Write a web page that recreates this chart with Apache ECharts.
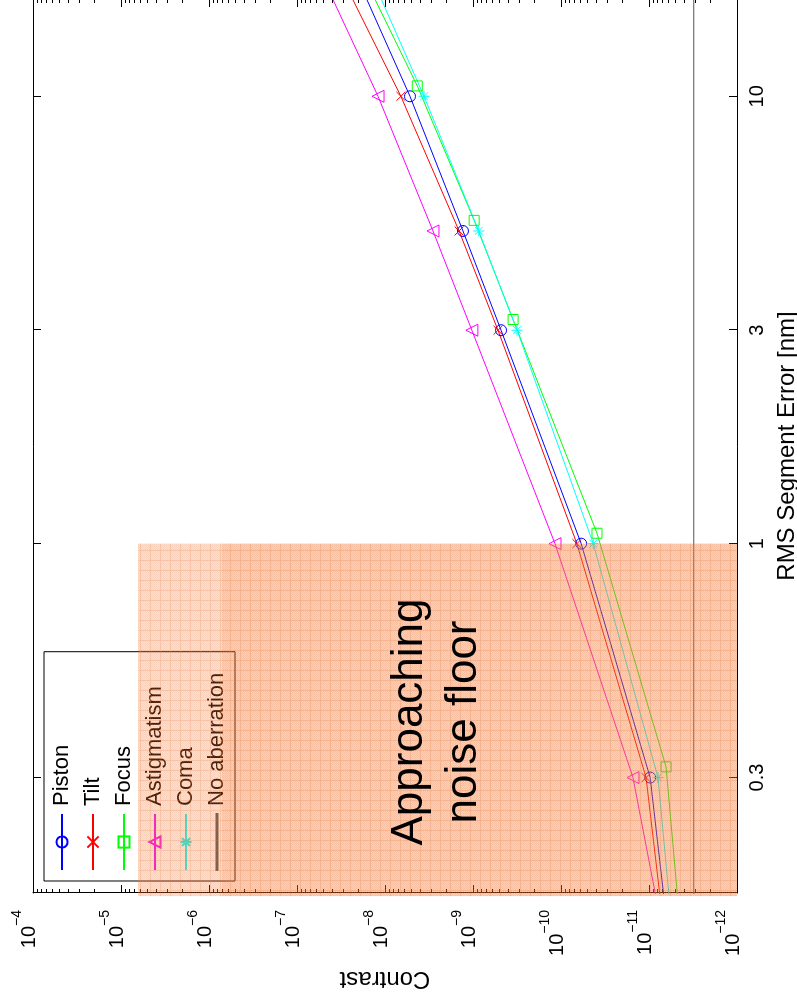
<!DOCTYPE html>
<html>
<head>
<meta charset="utf-8">
<script src="https://cdn.jsdelivr.net/npm/echarts@6.0.0/dist/echarts.min.js"></script>
<style>
  html, body { margin: 0; padding: 0; background: #fff; overflow: hidden; width: 797px; height: 1001px; }
  /* the figure is drawn upright, then turned a quarter turn to the left */
  #chart { position: absolute; left: 0; top: 0; width: 1001px; height: 797px;
           transform-origin: 0 0; transform: translate(0, 1001px) rotate(-90deg); }
</style>
</head>
<body>
<div id="chart"></div>
<script>
// RMS segment error [nm] at which each case was computed
const rmsNominal = [0.1, 0.3, 1, 3, 5, 10, 20];
const rmsFocus = [0.1055, 0.317, 1.055, 3.17, 5.28, 10.55, 21.1];

// contrast for each aberration
const pistonContrast = [5.1e-12, 9.7e-12, 5.9e-11, 4.8e-10, 1.3e-9, 5.2e-9, 2.5e-8];
const tiltContrast = [5.6e-12, 1.08e-11, 6.6e-11, 5.2e-10, 1.44e-9, 6.6e-9, 3.8e-8];
const focusContrast = [3.9e-12, 6.4e-12, 3.9e-11, 3.5e-10, 9.7e-10, 4.3e-9, 2.4e-8];
const astigContrast = [5.2e-12, 1.52e-11, 1.17e-10, 1.03e-9, 2.85e-9, 1.2e-8, 6.2e-8];
const comaContrast = [4.7e-12, 7.9e-12, 4.3e-11, 3.16e-10, 8.6e-10, 3.6e-9, 1.7e-8];
const noAberrRms = [0.1, 20];
const noAberrContrast = [3.1e-12, 3.1e-12];

// axes
const rmsRange = [0.1656, 16.5];
const rmsTicks = [0.3, 1, 3, 10];
const contrastExponents = [-12, -11, -10, -9, -8, -7, -6, -5, -4];
const minorSteps = [2, 3, 4, 5, 6, 7, 8, 9];

// shaded "noise floor" bands: rms from, rms to, contrast top, contrast bottom
const noiseBands = [
  [0.163, 1, 6.4e-6, 1e-12],
  [0.163, 1, 7.1e-7, 1e-12],
];

const FONT = '"Liberation Sans", Arial, sans-serif';
const lg = Math.log10;

const rmsTickLog = rmsTicks.map(lg);
const majorLog = contrastExponents.slice();
let minorLog = [];
contrastExponents.slice(0, -1).forEach((e) => {
  minorSteps.forEach((k) => minorLog.push(e + lg(k)));
});

// orange hatched tile
function makeTile(lo, hi, line) {
  const c = document.createElement("canvas");
  c.width = 10;
  c.height = 10;
  const g = c.getContext("2d");
  for (let x = 0; x < 10; x++) {
    for (let y = 0; y < 10; y++) {
      let a = (x + y) % 2 ? lo : hi;
      if (x === 0 || y === 0) a = line;
      g.fillStyle = "rgba(238,122,62," + a + ")";
      g.fillRect(x, y, 1, 1);
    }
  }
  return c;
}
const tiles = [makeTile(0.24, 0.34, 0.46), makeTile(0.14, 0.2, 0.2)];

function lineSeries(name, xs, ys, color, symbol, size) {
  return {
    name: name,
    type: "line",
    data: xs.map((x, i) => [lg(x), lg(ys[i])]),
    symbol: symbol,
    symbolSize: size,
    showSymbol: symbol !== "none",
    showAllSymbol: true,
    lineStyle: { color: color, width: 1 },
    itemStyle: { color: "rgba(0,0,0,0)", borderColor: color, borderWidth: 1 },
    emphasis: { disabled: true },
    z: 2,
  };
}

const xTemplate = (pos, labels) => ({
  type: "value",
  position: pos,
  min: lg(rmsRange[0]),
  max: lg(rmsRange[1]),
  splitLine: { show: false },
  axisLine: { show: true, onZero: false, lineStyle: { color: "#000", width: 1 } },
  axisTick: { show: true, inside: true, length: 8, customValues: rmsTickLog, lineStyle: { color: "#000" } },
  axisLabel: {
    show: labels,
    customValues: rmsTickLog,
    margin: 10,
    color: "#000",
    fontSize: 20,
    fontFamily: FONT,
    formatter: (v) => String(Number(Math.pow(10, v).toPrecision(6))),
  },
});

const yTemplate = (pos, ticks, len, showLine, labels) => ({
  type: "value",
  position: pos,
  min: -12,
  max: -4,
  splitLine: { show: false },
  axisLine: { show: showLine, onZero: false, lineStyle: { color: "#000", width: 1 } },
  axisTick: { show: true, inside: true, length: len, customValues: ticks, lineStyle: { color: "#000" } },
  axisLabel: {
    show: labels,
    customValues: majorLog,
    margin: 17,
    padding: [0, 0, 16, 0],
    formatter: (v) => "{b|10}{s|\u2212" + Math.round(-v) + "}",
    rich: {
      b: { fontSize: 20, fontFamily: FONT, color: "#000", verticalAlign: "bottom" },
      s: { fontSize: 14, fontFamily: FONT, color: "#000", verticalAlign: "bottom", padding: [0, 0, 15, 0] },
    },
  },
});

const xAxisBottom = xTemplate("bottom", true);
xAxisBottom.name = "RMS Segment Error [nm]";
xAxisBottom.nameLocation = "middle";
xAxisBottom.nameGap = 38;
xAxisBottom.nameTextStyle = { fontSize: 24, fontFamily: FONT, color: "#000" };

const yAxisLeft = yTemplate("left", majorLog, 8, true, true);
yAxisLeft.name = "Contrast";
yAxisLeft.nameLocation = "middle";
yAxisLeft.nameGap = 70;
yAxisLeft.nameTextStyle = { fontSize: 24, fontFamily: FONT, color: "#000" };

const option = {
  animation: false,
  backgroundColor: "#fff",
  grid: { left: 108, right: -1, top: 33, bottom: 60, show: false, outerBoundsMode: "none", containLabel: false },
  xAxis: [xAxisBottom, xTemplate("top", false)],
  yAxis: [
    yAxisLeft,
    yTemplate("right", majorLog, 8, true, false),
    yTemplate("left", minorLog, 4, false, false),
    yTemplate("right", minorLog, 4, false, false),
  ],
  legend: {
    data: [
      "Piston", "Tilt", "Focus", "Astigmatism", "Coma",
      { name: "No aberration", icon: "path://M0,0L56,0L56,1.2L0,1.2Z" },
    ],
    orient: "vertical",
    left: 120,
    top: 44,
    padding: [7, 21, 7, 10],
    itemWidth: 56,
    itemHeight: 14,
    itemGap: 9,
    backgroundColor: "#fff",
    borderColor: "#000",
    borderWidth: 1,
    borderRadius: 0,
    selectedMode: false,
    z: 4,
    textStyle: { fontSize: 22, fontFamily: FONT, color: "#000", padding: [0, 0, 0, 3] },
  },
  series: [
    lineSeries("Piston", rmsNominal, pistonContrast, "#0000ff", "circle", 11),
    lineSeries("Tilt", rmsNominal, tiltContrast, "#ff0000", "path://M0,0L10,10M0,10L10,0", 9),
    lineSeries("Focus", rmsFocus, focusContrast, "#00ff00", "rect", 10),
    lineSeries("Astigmatism", rmsNominal, astigContrast, "#ff00ff", "triangle", 12),
    lineSeries("Coma", rmsNominal, comaContrast, "#00ffff",
      "path://M5,0L5,10M0,5L10,5M1.5,1.5L8.5,8.5M1.5,8.5L8.5,1.5", 11),
    lineSeries("No aberration", noAberrRms, noAberrContrast, "#555555", "none", 0),
    {
      name: "noise",
      type: "custom",
      z: 10,
      silent: true,
      clip: false,
      data: noiseBands.map((b) => [lg(b[0]), lg(b[1]), lg(b[2]), lg(b[3])]),
      renderItem: (params, api) => {
        const p0 = api.coord([api.value(0), api.value(2)]);
        const p1 = api.coord([api.value(1), api.value(3)]);
        return {
          type: "rect",
          shape: {
            x: Math.min(p0[0], p1[0]),
            y: Math.min(p0[1], p1[1]),
            width: Math.abs(p1[0] - p0[0]),
            height: Math.abs(p1[1] - p0[1]),
          },
          style: { fill: { image: tiles[params.dataIndex], repeat: "repeat" } },
        };
      },
    },
  ],
  graphic: [
    {
      type: "text",
      x: 279,
      y: 437,
      z: 100,
      style: {
        text: "Approaching\nnoise floor",
        fontSize: 44,
        fontFamily: FONT,
        fill: "#000",
        align: "center",
        verticalAlign: "middle",
        lineHeight: 54,
      },
    },
  ],
};

const myChart = echarts.init(document.getElementById("chart"));
myChart.setOption(option);
</script>
</body>
</html>
